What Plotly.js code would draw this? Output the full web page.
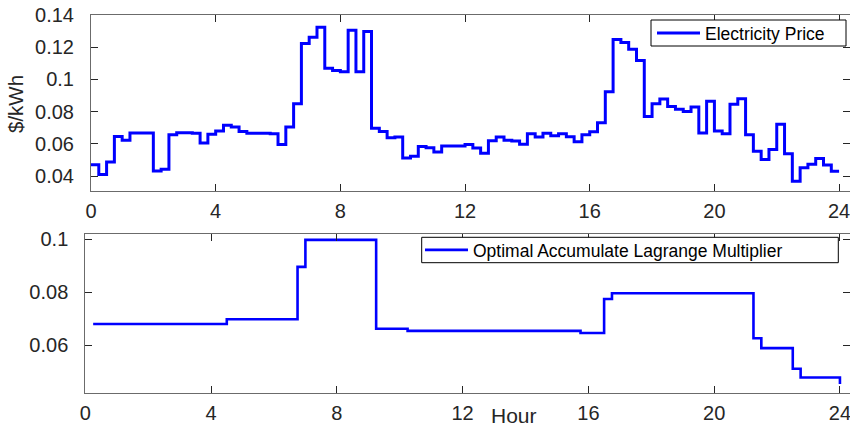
<!DOCTYPE html>
<html>
<head>
<meta charset="utf-8">
<script src="https://cdn.plot.ly/plotly-3.0.1.min.js"></script>
<style>
  html, body { margin: 0; padding: 0; background: #fff; }
  #chart { width: 850px; height: 426px; }
</style>
</head>
<body>
<div id="chart"></div>
<script>
// Quarter-hour time stamps (hours)
const priceHours = [
  0, 0.25, 0.5, 0.75, 1, 1.25, 1.5, 1.75, 2, 2.25, 2.5, 2.75,
  3, 3.25, 3.5, 3.75, 4, 4.25, 4.5, 4.75, 5, 5.25, 5.5, 5.75,
  6, 6.25, 6.5, 6.75, 7, 7.25, 7.5, 7.75, 8, 8.25, 8.5, 8.75,
  9, 9.25, 9.5, 9.75, 10, 10.25, 10.5, 10.75, 11, 11.25, 11.5, 11.75,
  12, 12.25, 12.5, 12.75, 13, 13.25, 13.5, 13.75, 14, 14.25, 14.5, 14.75,
  15, 15.25, 15.5, 15.75, 16, 16.25, 16.5, 16.75, 17, 17.25, 17.5, 17.75,
  18, 18.25, 18.5, 18.75, 19, 19.25, 19.5, 19.75, 20, 20.25, 20.5, 20.75,
  21, 21.25, 21.5, 21.75, 22, 22.25, 22.5, 22.75, 23, 23.25, 23.5, 23.75, 24
];
// Electricity price ($/kWh), one value per quarter hour (last value repeated to close the step at 24 h)
const priceValues = [
  0.0470, 0.0410, 0.0487, 0.0646, 0.0622, 0.0667, 0.0667, 0.0667, 0.0431, 0.0442, 0.0657, 0.0669,
  0.0669, 0.0666, 0.0605, 0.0659, 0.0679, 0.0716, 0.0704, 0.0677, 0.0665, 0.0665, 0.0665, 0.0663,
  0.0595, 0.0704, 0.0849, 0.1223, 0.1262, 0.1324, 0.1070, 0.1056, 0.1048, 0.1306, 0.1048, 0.1297,
  0.0696, 0.0677, 0.0638, 0.0642, 0.0512, 0.0522, 0.0584, 0.0576, 0.0549, 0.0586, 0.0586, 0.0587,
  0.0595, 0.0574, 0.0541, 0.0619, 0.0642, 0.0622, 0.0618, 0.0597, 0.0663, 0.0642, 0.0665, 0.0650,
  0.0663, 0.0644, 0.0613, 0.0657, 0.0675, 0.0731, 0.0923, 0.1248, 0.1229, 0.1188, 0.1118, 0.0770,
  0.0849, 0.0878, 0.0832, 0.0814, 0.0801, 0.0828, 0.0667, 0.0865, 0.0679, 0.0663, 0.0845, 0.0880,
  0.0657, 0.0553, 0.0502, 0.0564, 0.0721, 0.0539, 0.0367, 0.0452, 0.0473, 0.0508, 0.0468, 0.0429, 0.0429
];
// Optimal accumulate Lagrange multiplier: change points (hours) and levels
const lagHours  = [0.25, 4.5, 6.75, 7.0, 9.25, 10.25, 15.75, 16.5, 16.75, 21.25, 21.5, 22.5, 22.75, 24];
const lagValues = [0.0680, 0.0698, 0.0895, 0.0997, 0.0662, 0.0654, 0.0646, 0.0774, 0.0796, 0.0626, 0.0589, 0.0511, 0.0478, 0.0454];

const hourTicks = [0, 4, 8, 12, 16, 20, 24];
const hourTickText = ['0', '4', '8', '12', '16', '20', '24'];
const priceTicks = [0.04, 0.06, 0.08, 0.1, 0.12, 0.14];
const priceTickText = ['0.04', '0.06', '0.08', '0.1', '0.12', '0.14'];
const lagTicks = [0.06, 0.08, 0.1];
const lagTickText = ['0.06', '0.08', '0.1'];

const seriesNames = ['Electricity Price', 'Optimal Accumulate Lagrange Multiplier'];

const FONT = 'Liberation Sans, Arial, Helvetica, sans-serif';
const W = 850, H = 426;
const px = v => v / W;          // horizontal pixel -> paper fraction
const py = v => (H - v) / H;    // vertical pixel (from top) -> paper fraction

const traces = [
  {
    x: priceHours, y: priceValues, type: 'scatter', mode: 'lines',
    line: { shape: 'hv', color: '#0000ff', width: 3 },
    name: seriesNames[0], xaxis: 'x', yaxis: 'y', legend: 'legend'
  },
  {
    x: lagHours, y: lagValues, type: 'scatter', mode: 'lines',
    line: { shape: 'hv', color: '#0000ff', width: 2.6 },
    name: seriesNames[1], xaxis: 'x2', yaxis: 'y2', legend: 'legend2'
  }
];

const axCommon = {
  showline: true, linecolor: '#6b6b6b', linewidth: 1, mirror: 'ticks',
  ticks: 'inside', ticklen: 7, tickcolor: '#262626', tickwidth: 1,
  showgrid: false, zeroline: false, automargin: false,
  tickfont: { family: FONT, size: 20, color: '#262626' }
};

const legendCommon = {
  xref: 'container', yref: 'container', xanchor: 'left', yanchor: 'top',
  bgcolor: 'rgba(0,0,0,0)', bordercolor: 'rgba(0,0,0,0)', borderwidth: 1,
  font: { family: FONT, size: 17.5, color: '#000000' },
  orientation: 'v', itemwidth: 43
};

const layout = {
  width: W, height: H,
  margin: { l: 0, r: 0, t: 0, b: 0, autoexpand: false },
  paper_bgcolor: '#ffffff', plot_bgcolor: '#ffffff',
  showlegend: true,
  xaxis: Object.assign({}, axCommon, {
    domain: [px(91), 1], range: [0, 24.35], anchor: 'y',
    tickmode: 'array', tickvals: hourTicks, ticktext: hourTickText,
    ticklabelstandoff: 2, ticklabeloverflow: 'allow'
  }),
  yaxis: Object.assign({}, axCommon, {
    domain: [py(190.5), py(15)], range: [0.031, 0.14], anchor: 'x',
    tickmode: 'array', tickvals: priceTicks, ticktext: priceTickText,
    ticklabelstandoff: 12
  }),
  xaxis2: Object.assign({}, axCommon, {
    domain: [px(85.3), 1], range: [0, 24.32], anchor: 'y2',
    tickmode: 'array', tickvals: hourTicks, ticktext: hourTickText,
    ticklabelstandoff: 2, ticklabeloverflow: 'allow'
  }),
  yaxis2: Object.assign({}, axCommon, {
    domain: [py(392.7), py(234)], range: [0.0421, 0.1019], anchor: 'x2',
    tickmode: 'array', tickvals: lagTicks, ticktext: lagTickText,
    ticklabelstandoff: 12
  }),
  legend: Object.assign({}, legendCommon, { x: px(651), y: py(14) }),
  legend2: Object.assign({}, legendCommon, { x: px(419), y: py(231) }),
  shapes: [
    { type: 'rect', xref: 'paper', yref: 'paper', layer: 'above',
      x0: px(651), x1: px(846), y0: py(46), y1: py(20),
      line: { color: '#000000', width: 1 }, fillcolor: '#ffffff' },
    { type: 'rect', xref: 'paper', yref: 'paper', layer: 'above',
      x0: px(421.7), x1: px(838.3), y0: py(262.7), y1: py(237.3),
      line: { color: '#000000', width: 1 }, fillcolor: '#ffffff' }
  ],
  annotations: [
    {
      text: '$/kWh', xref: 'paper', yref: 'paper', x: px(16), y: py(104),
      xanchor: 'center', yanchor: 'middle', textangle: -90, showarrow: false,
      font: { family: FONT, size: 20.5, color: '#262626' }
    },
    {
      text: 'Hour', xref: 'paper', yref: 'paper', x: px(514), y: py(415),
      xanchor: 'center', yanchor: 'middle', showarrow: false,
      font: { family: FONT, size: 21, color: '#262626' }
    }
  ]
};

Plotly.newPlot('chart', traces, layout, { staticPlot: true, displayModeBar: false });
</script>
</body>
</html>
